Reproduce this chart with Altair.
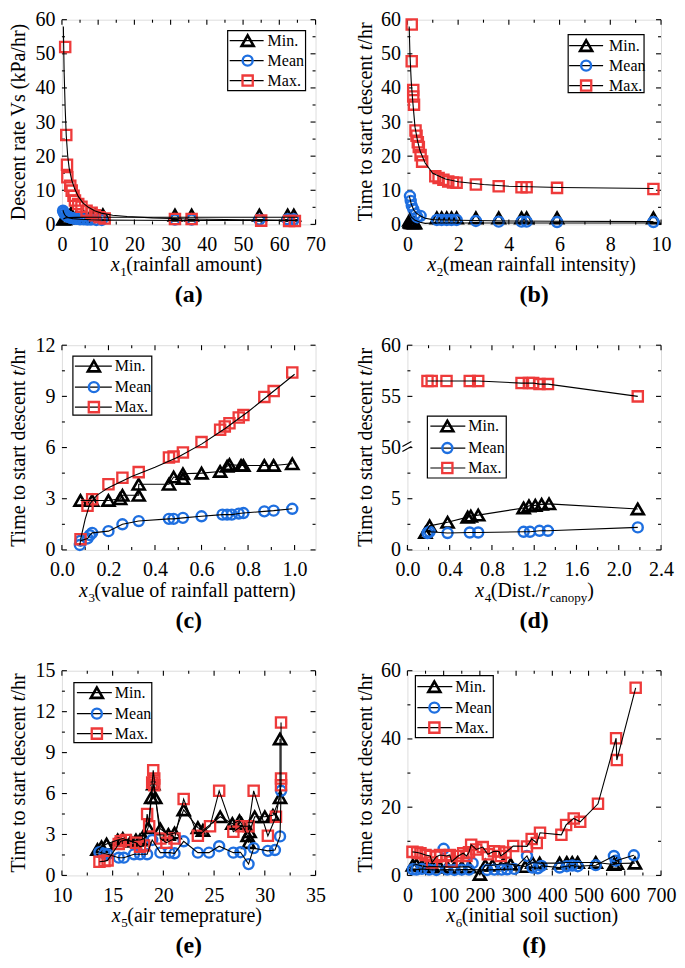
import altair as alt
import pandas as pd

FONT = "Liberation Serif"
W, H = 254, 205
RED = "#ee3a3a"
BLUE = "#1e6fe0"
TS = 20  # title font size

# ---------------- data ----------------
# (a) x1 rainfall amount vs descent rate
a_min_x = [0.4, 0.8, 1.5, 2.5, 4.0, 6.0, 8.0, 9.2, 11.3, 31.2, 35.8, 54.5, 62.3, 64.0]
a_min_y = [1.5, 1.6, 1.8, 3.2, 2.2, 2.2, 2.6, 2.8, 2.8, 2.7, 2.7, 2.7, 2.7, 2.7]
a_mean_x = [0.3, 0.5, 0.8, 1.2, 1.6, 2.0, 2.5, 3.0, 3.5, 4.0, 5.0, 6.0, 7.0, 8.0, 9.5, 11.0, 31.2, 35.8, 54.5, 62.3, 64.0]
a_mean_y = [4.0, 3.5, 3.0, 2.6, 2.3, 2.1, 1.9, 1.8, 1.7, 1.6, 1.5, 1.5, 1.4, 1.4, 1.3, 1.3, 1.4, 1.4, 1.4, 1.5, 1.5]
a_max_x = [0.9, 1.2, 1.4, 1.5, 2.3, 2.7, 3.2, 3.6, 4.5, 5.4, 6.8, 8.2, 9.1, 10.4, 11.8, 31.2, 35.8, 55.0, 62.7, 64.3]
a_max_y = [52.0, 26.2, 17.5, 13.8, 11.3, 9.9, 8.4, 7.0, 6.0, 5.2, 4.0, 3.4, 2.7, 2.1, 1.7, 1.6, 1.6, 1.1, 1.0, 1.0]
a_minfit_x = [0.4, 1.0, 2.0, 4.0, 8.0, 15.0, 30.0, 65.0]
a_minfit_y = [1.6, 1.9, 2.0, 2.05, 2.1, 2.1, 2.1, 2.1]
a_meanfit_x = [0.3, 0.5, 0.8, 1.2, 2.0, 3.0, 5.0, 8.0, 12.0, 20.0, 35.0, 65.0]
a_meanfit_y = [4.2, 3.4, 2.8, 2.3, 1.9, 1.7, 1.5, 1.35, 1.25, 1.2, 1.15, 1.15]
a_maxfit_x = [0.4, 0.6, 0.9, 1.2, 1.6, 2.0, 2.7, 3.5, 4.5, 5.8, 7.3, 9.0, 10.9, 14.0, 18.0, 25.0, 35.0, 50.0, 65.0]
a_maxfit_y = [58, 45, 34, 26, 20, 16.5, 13, 10.5, 8.2, 6.3, 5.0, 4.0, 3.3, 2.7, 2.3, 1.9, 1.6, 1.35, 1.2]

# (b) x2 mean rainfall intensity
b_min_x = [0.08, 0.1, 0.12, 0.15, 0.2, 0.25, 0.3, 1.16, 1.35, 1.55, 1.74, 1.94, 2.7, 3.6, 4.5, 4.7, 5.9, 9.7]
b_min_y = [1.2, 0.8, 0.6, 0.5, 0.5, 0.4, 0.4, 1.9, 1.9, 1.9, 1.9, 1.9, 1.9, 1.9, 1.9, 1.9, 1.9, 1.9]
b_mean_x = [0.1, 0.13, 0.17, 0.23, 0.32, 0.39, 0.52, 1.16, 1.35, 1.55, 1.74, 1.94, 2.7, 3.6, 4.5, 4.7, 5.9, 9.7]
b_mean_y = [8.3, 6.9, 5.5, 4.5, 3.1, 2.1, 2.5, 1.3, 1.3, 1.3, 1.3, 1.3, 1.0, 0.8, 0.8, 0.8, 0.7, 0.7]
b_max_x = [0.17, 0.17, 0.23, 0.23, 0.26, 0.32, 0.36, 0.41, 0.45, 0.52, 0.58, 1.1, 1.23, 1.42, 1.61, 1.8, 1.94, 2.7, 3.6, 4.5, 4.7, 5.9, 9.7]
b_max_y = [58.6, 47.8, 39.4, 37.5, 35.1, 27.5, 26.0, 24.1, 22.7, 20.3, 18.4, 14.1, 13.6, 13.1, 12.6, 12.3, 12.2, 11.7, 11.2, 10.9, 10.9, 10.7, 10.4]
b_minfit_x = [0.08, 0.15, 0.3, 0.5, 0.7, 1.0, 2.0, 5.0, 9.7]
b_minfit_y = [3.5, 2.2, 1.2, 0.6, 0.3, 0.4, 0.4, 0.4, 0.4]
b_meanfit_x = [0.08, 0.15, 0.25, 0.35, 0.5, 0.7, 1.0, 2.0, 4.0, 6.0, 9.7]
b_meanfit_y = [8.2, 6.0, 4.2, 3.3, 2.5, 1.8, 1.4, 1.2, 1.0, 0.9, 0.8]
b_maxfit_x = [0.07, 0.1, 0.15, 0.2, 0.3, 0.4, 0.5, 0.7, 1.0, 1.5, 2.0, 3.0, 4.0, 6.0, 9.7]
b_maxfit_y = [58, 50, 42, 37, 28.5, 24.5, 21.5, 18, 15, 13.3, 12.5, 11.7, 11.2, 10.8, 10.5]

# (c) x3 value of rainfall pattern
c_min_x = [0.08, 0.13, 0.2, 0.25, 0.26, 0.33, 0.33, 0.46, 0.48, 0.52, 0.52, 0.6, 0.68, 0.71, 0.72, 0.77, 0.78, 0.87, 0.91, 0.99]
c_min_y = [2.9, 2.9, 2.9, 3.0, 3.2, 3.2, 3.85, 3.85, 4.27, 4.18, 4.46, 4.5, 4.6, 4.9, 5.0, 4.95, 4.95, 4.95, 4.95, 5.05]
c_mean_x = [0.077, 0.08, 0.11, 0.12, 0.13, 0.2, 0.26, 0.33, 0.46, 0.48, 0.52, 0.6, 0.69, 0.71, 0.73, 0.76, 0.78, 0.87, 0.91, 0.99]
c_mean_y = [0.29, 0.54, 0.67, 0.86, 1.0, 1.1, 1.5, 1.69, 1.82, 1.82, 1.88, 1.97, 2.07, 2.07, 2.07, 2.13, 2.16, 2.26, 2.3, 2.41]
c_max_x = [0.08, 0.11, 0.13, 0.2, 0.26, 0.33, 0.46, 0.48, 0.52, 0.6, 0.68, 0.7, 0.72, 0.76, 0.78, 0.87, 0.91, 0.99]
c_max_y = [0.63, 2.59, 2.97, 3.85, 4.23, 4.56, 5.42, 5.48, 5.71, 6.32, 7.05, 7.24, 7.43, 7.76, 7.91, 8.97, 9.31, 10.4]
c_maxfit_x = [0.08, 0.1, 0.12, 0.15, 0.2, 0.3, 0.4, 0.5, 0.6, 0.7, 0.8, 0.9, 1.0]
c_maxfit_y = [0.6, 1.8, 2.7, 3.2, 3.65, 4.3, 4.85, 5.45, 6.2, 7.1, 8.1, 9.2, 10.3]

# (d) x4 Dist./r_canopy
d_min_x = [0.17, 0.21, 0.38, 0.57, 0.6, 0.67, 1.1, 1.15, 1.21, 1.27, 1.34, 2.18]
d_min_y = [1.7, 2.35, 2.7, 3.2, 3.3, 3.4, 4.1, 4.3, 4.35, 4.45, 4.5, 4.0]
d_mean_x = [0.19, 0.21, 0.38, 0.59, 0.67, 1.1, 1.16, 1.25, 1.33, 2.18]
d_mean_y = [1.65, 1.77, 1.65, 1.7, 1.7, 1.77, 1.77, 1.87, 1.87, 2.2]
d_max_x = [0.19, 0.23, 0.37, 0.59, 0.67, 1.08, 1.15, 1.19, 1.25, 1.33, 2.18]
d_max_y = [56.5, 56.5, 56.5, 56.5, 56.5, 56.3, 56.3, 56.3, 56.2, 56.2, 55.0]

# (e) x5 air temperature
e_min_x = [13.5, 13.9, 14.4, 15.5, 16.0, 16.8, 17.3, 17.7, 18.1, 18.5, 18.8, 19.0, 19.2, 19.7, 20.5, 21.1, 22.0, 23.4, 23.9, 25.6, 26.8, 27.5, 27.7, 28.3, 28.4, 28.5, 29.0, 30.0, 30.8, 31.5, 31.5]
e_min_y = [1.9, 2.1, 2.3, 2.6, 2.7, 2.5, 2.6, 2.6, 2.7, 3.5, 5.7, 6.7, 5.7, 3.4, 3.0, 3.1, 4.8, 3.5, 3.3, 4.3, 3.8, 4.0, 3.8, 2.9, 2.4, 3.2, 4.3, 4.3, 4.4, 5.7, 10.0]
e_mean_x = [13.7, 14.2, 14.5, 15.6, 16.1, 17.1, 17.7, 18.4, 18.9, 19.7, 20.6, 21.1, 22.0, 23.4, 24.5, 25.5, 26.9, 27.6, 28.4, 28.9, 30.3, 31.0, 31.5, 31.6]
e_mean_y = [1.7, 1.6, 1.55, 1.3, 1.3, 1.55, 1.55, 1.55, 2.6, 1.67, 1.67, 1.62, 2.5, 1.67, 1.67, 2.14, 1.67, 1.7, 0.83, 2.0, 1.8, 1.86, 2.86, 6.2]
e_max_x = [13.7, 14.2, 14.5, 15.6, 15.8, 16.3, 17.3, 17.7, 18.1, 18.4, 18.6, 18.9, 19.0, 19.1, 19.1, 19.7, 20.3, 21.1, 22.0, 23.4, 24.6, 25.5, 26.9, 27.7, 28.4, 28.9, 30.3, 31.1, 31.6, 31.6, 31.6]
e_max_y = [1.0, 1.05, 1.1, 2.3, 2.5, 2.6, 2.4, 2.1, 2.2, 4.5, 3.6, 6.8, 7.7, 7.1, 6.6, 2.7, 2.4, 2.7, 5.6, 2.9, 3.6, 6.2, 3.2, 3.6, 3.6, 6.2, 2.9, 4.3, 6.6, 7.1, 11.2]

# (f) x6 initial soil suction
f_min_x = [15, 25, 40, 55, 70, 90, 110, 130, 150, 170, 200, 215, 235, 265, 285, 325, 345, 365, 420, 440, 455, 470, 520, 570, 578, 628]
f_min_y = [3.0, 3.2, 2.8, 2.5, 2.6, 2.5, 2.5, 2.4, 2.5, 2.5, 0.3, 3.0, 3.0, 3.5, 3.3, 2.6, 3.8, 3.6, 3.6, 3.8, 3.8, 3.8, 3.8, 3.2, 3.5, 3.6]
f_mean_x = [15, 25, 40, 60, 80, 100, 110, 130, 150, 170, 180, 220, 240, 260, 275, 295, 330, 345, 360, 370, 420, 440, 455, 470, 520, 570, 575, 625]
f_mean_y = [1.8, 1.7, 1.9, 1.7, 1.6, 7.8, 1.7, 1.6, 1.7, 1.7, 3.6, 1.6, 1.7, 1.7, 1.8, 1.9, 5.7, 2.3, 2.1, 2.8, 2.3, 2.7, 2.9, 2.7, 3.0, 5.7, 4.3, 5.9]
f_meanline_x = [15, 25, 40, 60, 80, 110, 130, 150, 170, 220, 240, 260, 275, 295, 330, 345, 360, 370, 420, 440, 455, 470, 520, 570, 575, 625]
f_meanline_y = [1.8, 1.7, 1.9, 1.7, 1.6, 1.7, 1.6, 1.7, 1.7, 1.6, 1.7, 1.7, 1.8, 1.9, 5.7, 2.3, 2.1, 2.8, 2.3, 2.7, 2.9, 2.7, 3.0, 5.7, 4.3, 5.9]
f_max_x = [14, 27, 36, 50, 63, 68, 80, 90, 108, 117, 122, 140, 154, 163, 170, 176, 190, 208, 222, 239, 253, 258, 271, 292, 330, 343, 357, 366, 425, 438, 459, 477, 526, 576, 578, 630]
f_max_y = [6.9, 6.7, 6.5, 6.0, 5.7, 3.8, 5.5, 6.0, 5.7, 6.0, 4.0, 5.7, 6.5, 5.7, 6.8, 9.0, 7.6, 8.3, 6.2, 7.1, 7.0, 5.7, 6.7, 8.6, 8.5, 10.7, 9.5, 12.5, 11.9, 14.8, 16.7, 15.7, 21.0, 40.2, 33.8, 55.0]

SERIES = ["Min.", "Mean", "Max."]
STYLE = {
    "Min.": dict(shape="triangle-up", color="black", size=145, sw=2.6),
    "Mean": dict(shape="circle", color=BLUE, size=100, sw=2.4),
    "Max.": dict(shape="square", color=RED, size=105, sw=2.3),
}

ONE = alt.Data(values=[{"k": 0}])


def df(xs, ys):
    return pd.DataFrame({"x": xs, "y": ys, "i": list(range(len(xs)))})


def txt(s, x, y, size=TS, align="left", baseline="alphabetic", angle=0,
        style="normal", weight="normal"):
    return alt.Chart(ONE).mark_text(
        text=s, font=FONT, fontSize=size, align=align, baseline=baseline,
        angle=angle, fontStyle=style, fontWeight=weight, color="black"
    ).encode(x=alt.value(x), y=alt.value(y))


def seg(x1, y1, x2, y2, color="black", width=1.0):
    return alt.Chart(ONE).mark_rule(color=color, strokeWidth=width).encode(
        x=alt.value(x1), y=alt.value(y1), x2=alt.value(x2), y2=alt.value(y2))


def panel(p):
    xs = alt.Scale(domain=p["xdom"], nice=False, zero=False)
    if "yrange" in p:
        ys = alt.Scale(domain=p["ydom"], range=p["yrange"], nice=False, zero=False)
    else:
        ys = alt.Scale(domain=p["ydom"], nice=False, zero=False)
    xaxis = alt.Axis(values=p["xmaj"], format=p["xfmt"], ticks=False, tickSize=0,
                     domain=False, grid=False, labelFont=FONT, labelFontSize=20,
                     labelColor="black", labelPadding=10, title=None,
                     labelOverlap=False, labelFlush=False)
    yaxis = alt.Axis(values=p["ymaj"], format="d", ticks=False, tickSize=0,
                     domain=False, grid=False, labelFont=FONT, labelFontSize=20,
                     labelColor="black", labelPadding=7, title=None,
                     labelOverlap=False, labelFlush=False)

    def X(f):
        return alt.X(f, type="quantitative", scale=xs, axis=xaxis)

    def Y(f):
        return alt.Y(f, type="quantitative", scale=ys, axis=yaxis)

    layers = []
    # inward ticks on all four sides
    for vals, L in ((p["xmaj"], 5), (p["xmin"], 3)):
        t = alt.Chart(pd.DataFrame({"v": vals}))
        layers.append(t.mark_rule(color="black", strokeWidth=1.1).encode(
            x=X("v"), y=alt.value(H), y2=alt.value(H - L)))
        layers.append(t.mark_rule(color="black", strokeWidth=1.1).encode(
            x=X("v"), y=alt.value(0), y2=alt.value(L)))
    for vals, L in ((p["ymaj"], 5), (p["ymin"], 3)):
        t = alt.Chart(pd.DataFrame({"v": vals}))
        layers.append(t.mark_rule(color="black", strokeWidth=1.1).encode(
            y=Y("v"), x=alt.value(0), x2=alt.value(L)))
        layers.append(t.mark_rule(color="black", strokeWidth=1.1).encode(
            y=Y("v"), x=alt.value(W), x2=alt.value(W - L)))

    # markers
    for name in SERIES:
        st = STYLE[name]
        mx, my = p["pts"][name]
        layers.append(alt.Chart(df(mx, my)).mark_point(
            shape=st["shape"], size=st["size"], filled=False, color=st["color"],
            strokeWidth=st["sw"], opacity=1).encode(x=X("x"), y=Y("y")))
    # black lines
    for name in SERIES:
        lx, ly = p["lines"][name]
        layers.append(alt.Chart(df(lx, ly)).mark_line(
            color="black", strokeWidth=1.1).encode(
            x=X("x"), y=Y("y"), order=alt.Order("i:Q")))

    # legend
    lg = p["leg"]
    dx = lg.get("dx", 0)
    bx0, by0, bx1, by1 = lg["box"]
    layers.append(alt.Chart(ONE).mark_rect(fill="white", stroke="black", strokeWidth=1.2).encode(
        x=alt.value(bx0 + dx), x2=alt.value(bx1 + dx), y=alt.value(by0), y2=alt.value(by1)))
    for name, ry in zip(SERIES, lg["rows"]):
        st = STYLE[name]
        layers.append(seg(lg["line"][0] + dx, ry, lg["line"][1] + dx, ry, width=1.2))
        layers.append(alt.Chart(ONE).mark_point(
            shape=st["shape"], size=st["size"], filled=False, color=st["color"],
            strokeWidth=st["sw"], opacity=1).encode(x=alt.value(lg["mk"] + dx), y=alt.value(ry)))
        layers.append(txt(name, lg["tx"] + dx, ry, size=16, baseline="middle"))

    # x title (mixed italic / subscript)
    by = H + 47
    for s, xpos, kind in p["xtitle"]:
        if kind == "i":
            layers.append(txt(s, xpos, by, style="italic"))
        elif kind == "s":
            layers.append(txt(s, xpos, by + 5, size=13))
        else:
            layers.append(txt(s, xpos, by))

    # y title
    yt = p["ytitle"]
    if yt == "italic_t":
        xb = p["ytx"]
        c = H / 2 - 103.5
        layers.append(txt("Time to start descent", xb, 36.5 + c, align="right", angle=270))
        layers.append(txt("t", xb, 31.5 + c, align="left", angle=270, style="italic"))
        layers.append(txt("/hr", xb, 25.9 + c, align="left", angle=270))
    else:
        layers.append(txt(yt, p["ytx"], H / 2, align="center", angle=270))

    # extra decorations (axis break)
    layers.extend(p.get("extra", []))

    # panel label
    layers.append(txt(p["label"], W / 2, H + 71, size=24, align="center",
                      baseline="middle", weight="bold"))
    return alt.layer(*layers).properties(width=W, height=H)


def rng(a, b, s):
    out, v = [], a
    while v <= b + 1e-9:
        out.append(round(v, 4))
        v += s
    return out


PANELS = [
    dict(label="(a)", xdom=[0, 70], ydom=[0, 60], xmaj=rng(0, 70, 10), xmin=rng(5, 65, 10),
         ymaj=rng(0, 60, 10), ymin=rng(5, 55, 10), xfmt="d",
         pts={"Min.": (a_min_x, a_min_y), "Mean": (a_mean_x, a_mean_y), "Max.": (a_max_x, a_max_y)},
         lines={"Min.": (a_minfit_x, a_minfit_y), "Mean": (a_meanfit_x, a_meanfit_y), "Max.": (a_maxfit_x, a_maxfit_y)},
         leg=dict(box=(170, 11, 248, 71), rows=(21, 41, 61), line=(172, 206), mk=190, tx=210, dx=W - 258),
         xtitle=[("x", 49, "i"), ("1", 58.5, "s"), ("(rainfall amount)", 64.5, "n")],
         ytitle="Descent rate Vs (kPa/hr)", ytx=-37),
    dict(label="(b)", xdom=[0, 10], ydom=[0, 60], xmaj=rng(0, 10, 2), xmin=rng(1, 9, 2),
         ymaj=rng(0, 60, 10), ymin=rng(5, 55, 10), xfmt="d",
         pts={"Min.": (b_min_x, b_min_y), "Mean": (b_mean_x, b_mean_y), "Max.": (b_max_x, b_max_y)},
         lines={"Min.": (b_minfit_x, b_minfit_y), "Mean": (b_meanfit_x, b_meanfit_y), "Max.": (b_maxfit_x, b_maxfit_y)},
         leg=dict(box=(165, 15, 241, 73), rows=(26, 46, 66), line=(166, 200), mk=183, tx=206, dx=W - 258),
         xtitle=[("x", 20, "i"), ("2", 29.5, "s"), ("(mean rainfall intensity)", 35.5, "n")],
         ytitle="italic_t", ytx=-35),
    dict(label="(c)", xdom=[0, 1.09], ydom=[0, 12], xmaj=rng(0, 1.0, 0.2), xmin=rng(0.1, 0.9, 0.2),
         ymaj=rng(0, 12, 3), ymin=rng(1.5, 10.5, 3), xfmt=".1f",
         pts={"Min.": (c_min_x, c_min_y), "Mean": (c_mean_x, c_mean_y), "Max.": (c_max_x, c_max_y)},
         lines={"Min.": (c_min_x, c_min_y), "Mean": (c_mean_x, c_mean_y), "Max.": (c_maxfit_x, c_maxfit_y)},
         leg=dict(box=(11, 11, 90, 70), rows=(21, 42, 62), line=(13, 50), mk=32, tx=53),
         xtitle=[("x", 17, "i"), ("3", 26.5, "s"), ("(value of rainfall pattern)", 32.5, "n")],
         ytitle="italic_t", ytx=-37),
    dict(label="(d)", xdom=[0, 2.4], ydom=[0, 10, 50, 60], yrange=[H, H / 2, H / 2, 0],
         xmaj=rng(0, 2.4, 0.4), xmin=rng(0.2, 2.2, 0.4),
         ymaj=[0, 5, 50, 55, 60], ymin=[2.5, 7.5, 52.5, 57.5], xfmt=".1f",
         pts={"Min.": (d_min_x, d_min_y), "Mean": (d_mean_x, d_mean_y), "Max.": (d_max_x, d_max_y)},
         lines={"Min.": (d_min_x, d_min_y), "Mean": (d_mean_x, d_mean_y), "Max.": (d_max_x, d_max_y)},
         leg=dict(box=(20, 71, 99, 133), rows=(81, 103, 123), line=(23, 58), mk=40, tx=61),
         xtitle=[("x", 68, "i"), ("4", 77.5, "s"), ("(Dist./", 83.5, "n"), ("r", 134.5, "i"),
                 ("canopy", 142.5, "s"), (")", 180, "n")],
         ytitle="italic_t", ytx=-35,
         extra=[seg(0, H / 2 - 4, 0, H / 2 + 4, color="white", width=3),
                seg(-5, H / 2 - 1, 4, H / 2 - 6, width=1.2),
                seg(-5, H / 2 + 4, 4, H / 2 - 1, width=1.2)]),
    dict(label="(e)", xdom=[10, 35], ydom=[0, 15], xmaj=rng(10, 35, 5), xmin=rng(12.5, 32.5, 5),
         ymaj=rng(0, 15, 3), ymin=rng(1.5, 13.5, 3), xfmt="d",
         pts={"Min.": (e_min_x, e_min_y), "Mean": (e_mean_x, e_mean_y), "Max.": (e_max_x, e_max_y)},
         lines={"Min.": (e_min_x, e_min_y), "Mean": (e_mean_x, e_mean_y), "Max.": (e_max_x, e_max_y)},
         leg=dict(box=(12, 12, 90, 72), rows=(22, 43, 63), line=(15, 50), mk=35, tx=53),
         xtitle=[("x", 50, "i"), ("5", 59.5, "s"), ("(air temeprature)", 65.5, "n")],
         ytitle="italic_t", ytx=-37),
    dict(label="(f)", xdom=[0, 700], ydom=[0, 60], xmaj=rng(0, 700, 100), xmin=rng(50, 650, 100),
         ymaj=rng(0, 60, 20), ymin=rng(10, 50, 20), xfmt="d",
         pts={"Min.": (f_min_x, f_min_y), "Mean": (f_mean_x, f_mean_y), "Max.": (f_max_x, f_max_y)},
         lines={"Min.": (f_min_x, f_min_y), "Mean": (f_meanline_x, f_meanline_y), "Max.": (f_max_x, f_max_y)},
         leg=dict(box=(8, 5, 86, 67), rows=(16, 37, 57), line=(10, 45), mk=27, tx=48),
         xtitle=[("x", 39, "i"), ("6", 48.5, "s"), ("(initial soil suction)", 54.5, "n")],
         ytitle="Time to start descent t/hr", ytx=-35),
]

charts = [panel(p) for p in PANELS]
chart = alt.concat(*charts, columns=2, spacing={"row": 121, "column": 92}, bounds="flush").properties(
    padding=0
).configure_view(stroke="black", strokeWidth=1.3).configure_axis(
    labelFont=FONT, labelFontSize=20, labelColor="black"
).configure_text(font=FONT).configure(background="white", font=FONT)

chart.save("out.html", embed_options={"renderer": "svg", "actions": False})
